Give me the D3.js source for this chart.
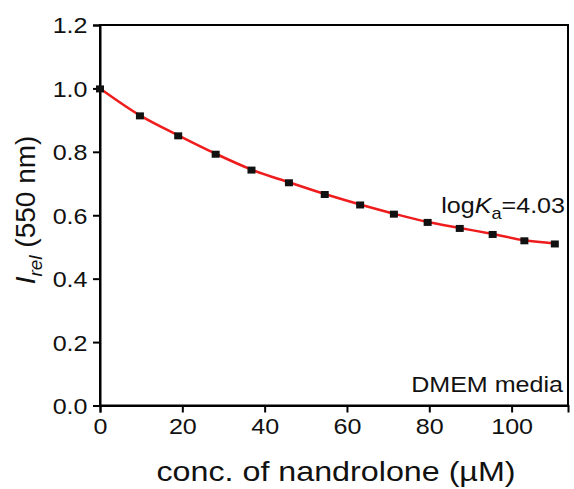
<!DOCTYPE html>
<html>
<head>
<meta charset="utf-8">
<script src="https://cdn.jsdelivr.net/npm/d3@7"></script>
<style>
  body { margin: 0; background: #fff; }
  text { font-family: "Liberation Sans", Arial, sans-serif; }
</style>
</head>
<body>
<script>
// concentration of nandrolone (uM)
const conc = [0, 9.7, 19.0, 28.1, 36.8, 45.9, 54.6, 63.2, 71.4, 79.6, 87.4, 95.4, 103.1, 110.5];
// relative intensity at 550 nm
const irel = [1.0, 0.915, 0.852, 0.794, 0.744, 0.704, 0.667, 0.634, 0.605, 0.579, 0.560, 0.541, 0.521, 0.511];
const xTicks = [0, 20, 40, 60, 80, 100];
const yTicks = [0, 0.2, 0.4, 0.6, 0.8, 1.0, 1.2];

(()=>{
    const width = 574;
    const height = 489;
    const left = 100, right = 568, top = 25, bottom = 405.5;
    const sx = 1.14; // the reference text is a bit wider than the font

    const svg = d3.create("svg")
        .attr("width", width)
        .attr("height", height)
        .attr("viewBox", [0, 0, width, height]);

    const x = d3.scaleLinear().domain([0, 113.7]).range([left, right]);
    const y = d3.scaleLinear().domain([0, 1.2]).range([bottom, top]);

    // frame
    svg.append("rect")
        .attr("x", left).attr("y", top)
        .attr("width", right - left).attr("height", bottom - top)
        .attr("fill", "none").attr("stroke", "black").attr("stroke-width", 2);

    const xAxis = svg.append("g")
        .attr("transform", `translate(0,${bottom})`)
        .call(d3.axisBottom(x).tickValues(xTicks).tickFormat(d3.format("d")).tickSize(7).tickPadding(6));
    const yAxis = svg.append("g")
        .attr("transform", `translate(${left},0)`)
        .call(d3.axisLeft(y).tickValues(yTicks).tickFormat(d3.format(".1f")).tickSize(7).tickPadding(5));

    [xAxis, yAxis].forEach(g => {
        g.select(".domain").attr("stroke-width", 2);
        g.selectAll(".tick line").attr("stroke-width", 2);
        g.selectAll(".tick text")
            .attr("font-family", "Liberation Sans, Arial, sans-serif")
            .attr("font-size", 22).attr("fill", "#111")
            .attr("transform", `scale(${sx},1)`);
    });
    yAxis.selectAll(".tick text").attr("dy", "0.36em").attr("x", -12.5 / sx);

    const pts = conc.map((c, i) => [c, irel[i]]);

    // smooth red curve through the readings
    svg.append("path")
        .datum(pts)
        .attr("fill", "none")
        .attr("stroke", "#ee1c1c")
        .attr("stroke-width", 2.5)
        .attr("d", d3.line().x(d => x(d[0])).y(d => y(d[1])).curve(d3.curveMonotoneX));

    const s = 8;
    svg.append("g").selectAll("rect")
        .data(pts)
        .join("rect")
        .attr("x", d => x(d[0]) - s / 2)
        .attr("y", d => y(d[1]) - s / 2 + 1)
        .attr("width", s).attr("height", s - 1)
        .attr("fill", "#111");

    // axis titles
    svg.append("text")
        .attr("transform", `translate(${(left + right) / 2 + 2},481) scale(${sx},1)`)
        .attr("text-anchor", "middle")
        .attr("font-size", 28.3)
        .attr("fill", "#111")
        .text("conc. of nandrolone (µM)");

    const yt = svg.append("text")
        .attr("transform", `translate(35,210) rotate(-90)`)
        .attr("text-anchor", "middle")
        .attr("font-size", 28)
        .attr("fill", "#111");
    yt.append("tspan").attr("font-style", "italic").text("I");
    yt.append("tspan").attr("font-style", "italic").attr("font-size", 19).attr("dy", 7).text("rel");
    yt.append("tspan").attr("dy", -7).text(" (550 nm)");

    // annotations
    const ka = svg.append("text")
        .attr("transform", `translate(565,213) scale(${sx},1)`)
        .attr("text-anchor", "end")
        .attr("font-size", 22)
        .attr("fill", "#111");
    ka.append("tspan").text("log");
    ka.append("tspan").attr("font-style", "italic").text("K");
    ka.append("tspan").attr("font-size", 16).attr("dy", 6).text("a");
    ka.append("tspan").attr("dy", -6).text("=4.03");

    svg.append("text")
        .attr("transform", `translate(563,392) scale(${sx},1)`)
        .attr("text-anchor", "end")
        .attr("font-size", 22)
        .attr("fill", "#111")
        .text("DMEM media");

    d3.select("body").append(() => svg.node());
})()
</script>
</body>
</html>
